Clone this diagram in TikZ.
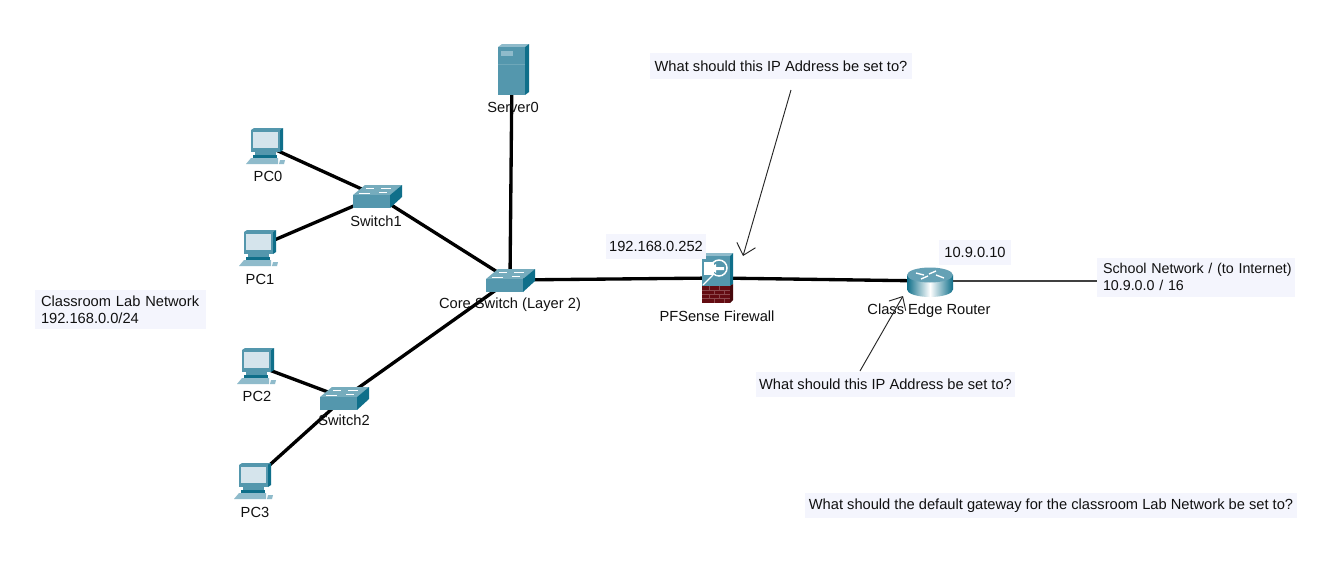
\documentclass[tikz,border=0pt]{standalone}
\usepackage{fontspec}
\setmainfont{Liberation Sans}
\usetikzlibrary{arrows.meta}
\definecolor{tealmid}{HTML}{5497AD}
\definecolor{tealdark}{HTML}{0F6F8A}
\definecolor{teallight}{HTML}{8FBBCB}
\definecolor{screenc}{HTML}{D5E4EC}
\definecolor{boxbg}{HTML}{F4F5FD}
\definecolor{brick}{HTML}{640C12}
\definecolor{txt}{HTML}{111111}
\tikzset{
  x=0.75pt,y=-0.75pt,
  link/.style={line width=2.5pt,black},
  thinlink/.style={line width=0.8pt,black!75},
  callout/.style={line width=0.7pt,black!85,-{Straight Barb[length=8pt,width=14.5pt,line width=0.7pt]}},
  lbl/.style={font=\fontsize{11pt}{12.6pt}\selectfont,text=txt,inner sep=0pt,align=left},
  boxed/.style={lbl,fill=boxbg,anchor=center},
  pics/pcicon/.style={code={
    \fill[tealmid] (-14,-15)--(-11,-17)--(18,-17)--(15,-15)--cycle;
    \fill[tealdark] (15,-15)--(18,-17)--(18,5)--(15,7)--cycle;
    \fill[tealmid] (-14,-15) rectangle (15,7);
    \fill[screenc] (-12,-13) rectangle (13,3);
    \fill[tealmid] (-10,7) rectangle (11,10);
    \fill[tealdark] (-12,10) rectangle (12,13);
    \fill[teallight] (-19,19)--(-14,13)--(13,13)--(13,19)--cycle;
    \fill[teallight] (15,15)--(20,15)--(19,19)--(14,19)--cycle;
  }},
  pics/switchicon/.style={code={
    \fill[tealmid!80!white] (-24,-1)--(-12,-11)--(25,-11)--(13,-1)--cycle;
    \fill[tealdark] (13,-1)--(25,-11)--(25,1)--(13,12)--cycle;
    \fill[tealmid] (-24,-1) rectangle (13,12);
    \draw[white,line width=0.7pt] (-11,-8)--(-3,-8) (4,-8)--(14,-8) (-18,-3)--(-7,-3) (2,-4)--(10,-4);
  }},
  pics/servericon/.style={code={
    \fill[teallight] (-14,-23)--(-10,-26)--(17,-26)--(13,-23)--cycle;
    \fill[tealdark] (13,-23)--(17,-26)--(17,22)--(13,25)--cycle;
    \fill[tealmid] (-14,-23) rectangle (13,25);
    \fill[teallight] (-11,-19) rectangle (1,-14);
    \draw[tealmid!85!white,line width=0.4pt] (-14,-6)--(13,-6);
  }},
  pics/firewallicon/.style={code={
    \fill[teallight] (-15,-22)--(-12,-25)--(16,-25)--(13,-22)--cycle;
    \fill[tealdark] (13,-22)--(16,-25)--(16,6)--(13,8)--cycle;
    \fill[tealmid] (-15,-22) rectangle (13,8);
    \fill[brick] (-15,8) rectangle (13,25);
    \fill[brick!70!black] (13,8)--(16,6)--(16,22)--(13,25)--cycle;
    \draw[brick!75!white,line width=0.25pt] (-15,12)--(13,12) (-15,16)--(13,16) (-15,20)--(13,20)
      (-8,8)--(-8,12) (2,8)--(2,12) (-3,12)--(-3,16) (7,12)--(7,16) (-8,16)--(-8,20) (2,16)--(2,20) (-3,20)--(-3,25) (7,20)--(7,25);
    \fill[white] (-13,-16)--(-3,-16)--(-3,-3)--(-13,-3)--cycle;
    \draw[white,line width=1.1pt] (2,-10) circle[radius=8];
    \fill[white] (-8,-10)--(-1,-14)--(-1,-11)--(7,-11)--(7,-8)--(-1,-8)--(-1,-5)--cycle;
    \draw[white,line width=1pt] (-4,-3)--(-14,7);
  }},
  pics/routericon/.style={code={
    \shade[left color=tealdark,right color=tealdark,middle color=white]
      (-23,-6) -- (-23,8.5) arc[start angle=180,end angle=0,x radius=23,y radius=7.5] -- (23,-6) -- cycle;
    \fill[tealmid!90!white] (0,-6) ellipse[x radius=23,y radius=7.5];
    \draw[white,line width=1pt] (-14,-8)--(-6,-6) (6,-6)--(14,-3) (6,-10)--(-1,-7) (-9,-2)--(-2,-5);
  }},
}
\begin{document}
\begin{tikzpicture}
\useasboundingbox (0,0) rectangle (1340,561);
\fill[white] (0,0) rectangle (1340,561);

\coordinate (pc0) at (265,145);
\coordinate (pc1) at (258,247);
\coordinate (pc2) at (256,365);
\coordinate (pc3) at (253,480);
\coordinate (sw1) at (377,196);
\coordinate (sw2) at (344,398);
\coordinate (core) at (510,280);
\coordinate (server) at (512,70);
\coordinate (fw) at (717,278);
\coordinate (router) at (930,281);
\coordinate (schoolend) at (1097,281);
\coordinate (q1start) at (791,90);
\coordinate (q1tip) at (743,256);
\coordinate (q2start) at (860,371);
\coordinate (q2tip) at (903,296);

\draw[link] (pc0)--(sw1);
\draw[link] (pc1)--(sw1);
\draw[link] (sw1)--(core);
\draw[link] (pc2)--(sw2);
\draw[link] (pc3)--(sw2);
\draw[link] (sw2)--(core);
\draw[link] (server)--(core);
\draw[link] (core)--(fw);
\draw[link] (fw)--(router);
\draw[thinlink] (router)--(schoolend);

\pic at (pc0) {pcicon};
\pic at (pc1) {pcicon};
\pic at (pc2) {pcicon};
\pic at (pc3) {pcicon};
\pic at (sw1) {switchicon};
\pic at (sw2) {switchicon};
\pic at (core) {switchicon};
\pic at (server) {servericon};
\pic at (fw) {firewallicon};
\pic at (router) {routericon};

\node[lbl] (lserver) at (513,107.7) {Server0};
\node[lbl] (lpc0) at (268,176.7) {PC0};
\node[lbl] (lsw1) at (376,221.5) {Switch1};
\node[lbl] (lpc1) at (260,279.7) {PC1};
\node[lbl] (lcore) at (510,304.7) {Core Switch (Layer 2)};
\node[lbl] (lpc2) at (257,396.7) {PC2};
\node[lbl] (lsw2) at (344,420.5) {Switch2};
\node[lbl] (lpc3) at (255,512.7) {PC3};
\node[lbl] (lfw) at (717,316.7) {PFSense Firewall};
\node[lbl] (lrouter) at (929,310.7) {Class Edge Router};

\node[boxed,minimum width=100*0.75pt,minimum height=25*0.75pt] (ipfw) at (656,246.5) {192.168.0.252};
\node[boxed,minimum width=72*0.75pt,minimum height=25*0.75pt] (iprouter) at (975,252.5) {10.9.0.10};
\node[boxed,minimum width=198*0.75pt,minimum height=39*0.75pt,text width=186*0.75pt,font=\fontsize{10.7pt}{12.6pt}\selectfont] (school) at (1196,277) {\mbox{School Network / (to Internet)}\\10.9.0.0 / 16};
\node[boxed,minimum width=171*0.75pt,minimum height=39*0.75pt,text width=159*0.75pt] (lab) at (120.5,309.5) {Classroom Lab Network\\192.168.0.0/24};
\node[boxed,minimum width=262*0.75pt,minimum height=26*0.75pt] (q1) at (781,66) {What should this IP Address be set to?};
\node[boxed,minimum width=259*0.75pt,minimum height=25*0.75pt] (q2) at (885.5,384) {What should this IP Address be set to?};
\node[boxed,minimum width=492*0.75pt,minimum height=25*0.75pt] (q3) at (1051,505.7) {What should the default gateway for the classroom Lab Network be set to?};

\draw[callout] (q1start)--(q1tip);
\draw[callout] (q2start)--(q2tip);
\end{tikzpicture}
\end{document}
